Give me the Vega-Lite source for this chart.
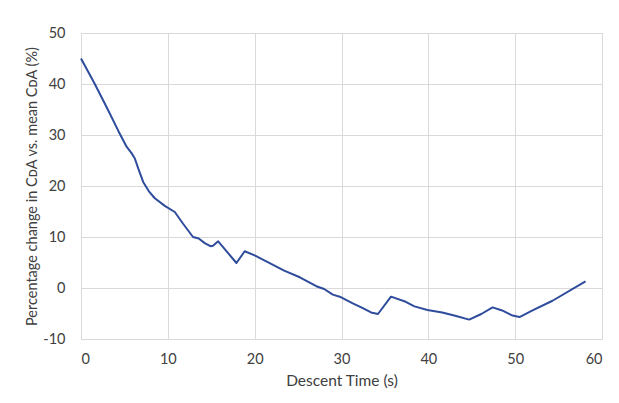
{
  "$schema": "https://vega.github.io/schema/vega-lite/v6.json",
  "autosize": "none",
  "width": 521,
  "height": 306,
  "padding": {"left": 81, "top": 33, "right": 17, "bottom": 64},
  "background": "white",
  "config": {
    "view": {"stroke": "#d9d9d9", "strokeWidth": 1},
    "font": "Lato"
  },
  "data": {
    "values": [
      {"t": 0, "v": 45.0},
      {"t": 1.5, "v": 40.3},
      {"t": 3.0, "v": 35.3},
      {"t": 4.3, "v": 30.8},
      {"t": 5.25, "v": 27.7},
      {"t": 5.8, "v": 26.5},
      {"t": 6.2, "v": 25.4},
      {"t": 6.6, "v": 23.4},
      {"t": 7.16, "v": 20.8},
      {"t": 7.8, "v": 19.0},
      {"t": 8.5, "v": 17.6},
      {"t": 9.65, "v": 16.1},
      {"t": 10.8, "v": 14.9},
      {"t": 11.76, "v": 12.6},
      {"t": 12.9, "v": 10.0},
      {"t": 13.56, "v": 9.7},
      {"t": 14.25, "v": 8.8},
      {"t": 14.9, "v": 8.2},
      {"t": 15.2, "v": 8.3},
      {"t": 15.8, "v": 9.15},
      {"t": 17.9, "v": 4.9},
      {"t": 18.85, "v": 7.2},
      {"t": 20.0, "v": 6.4},
      {"t": 23.4, "v": 3.4},
      {"t": 25.2, "v": 2.1},
      {"t": 27.1, "v": 0.35},
      {"t": 28.0, "v": -0.2},
      {"t": 29.0, "v": -1.3},
      {"t": 29.8, "v": -1.7},
      {"t": 31.3, "v": -3.0},
      {"t": 32.4, "v": -3.9},
      {"t": 33.4, "v": -4.8},
      {"t": 34.2, "v": -5.1},
      {"t": 35.7, "v": -1.7},
      {"t": 37.4, "v": -2.7},
      {"t": 38.4, "v": -3.6},
      {"t": 39.9, "v": -4.3},
      {"t": 41.6, "v": -4.8},
      {"t": 43.2, "v": -5.5},
      {"t": 44.7, "v": -6.2},
      {"t": 46.1, "v": -5.1},
      {"t": 47.4, "v": -3.8},
      {"t": 48.5, "v": -4.4},
      {"t": 49.7, "v": -5.4},
      {"t": 50.5, "v": -5.7},
      {"t": 52.0, "v": -4.4},
      {"t": 54.3, "v": -2.5},
      {"t": 58.1, "v": 1.3}
    ]
  },
  "mark": {"type": "line", "color": "#2f4c9c", "strokeWidth": 2, "strokeJoin": "round"},
  "encoding": {
    "x": {
      "field": "t",
      "type": "quantitative",
      "scale": {"domain": [0, 60], "nice": false, "zero": false},
      "axis": {
        "title": "Descent Time (s)",
        "values": [0, 10, 20, 30, 40, 50, 60],
        "grid": true,
        "gridColor": "#d9d9d9",
        "domain": false,
        "ticks": false,
        "labelFontSize": 14.5,
        "labelColor": "#404040",
        "labelPadding": 13,
        "titleFontSize": 15.5,
        "titleFontWeight": "normal",
        "titleColor": "#404040",
        "titlePadding": 8
      }
    },
    "y": {
      "field": "v",
      "type": "quantitative",
      "scale": {"domain": [-10, 50], "nice": false, "zero": false},
      "axis": {
        "title": "Percentage change in CᴅA vs. mean CᴅA (%)",
        "values": [-10, 0, 10, 20, 30, 40, 50],
        "labelExpr": "datum.value < 0 ? '-' + abs(datum.value) : '' + datum.value",
        "grid": true,
        "gridColor": "#d9d9d9",
        "domain": false,
        "ticks": false,
        "labelFontSize": 14.5,
        "labelColor": "#404040",
        "labelPadding": 16,
        "titleFontSize": 14.5,
        "titleFontWeight": "normal",
        "titleColor": "#404040",
        "titlePadding": 3
      }
    }
  }
}
